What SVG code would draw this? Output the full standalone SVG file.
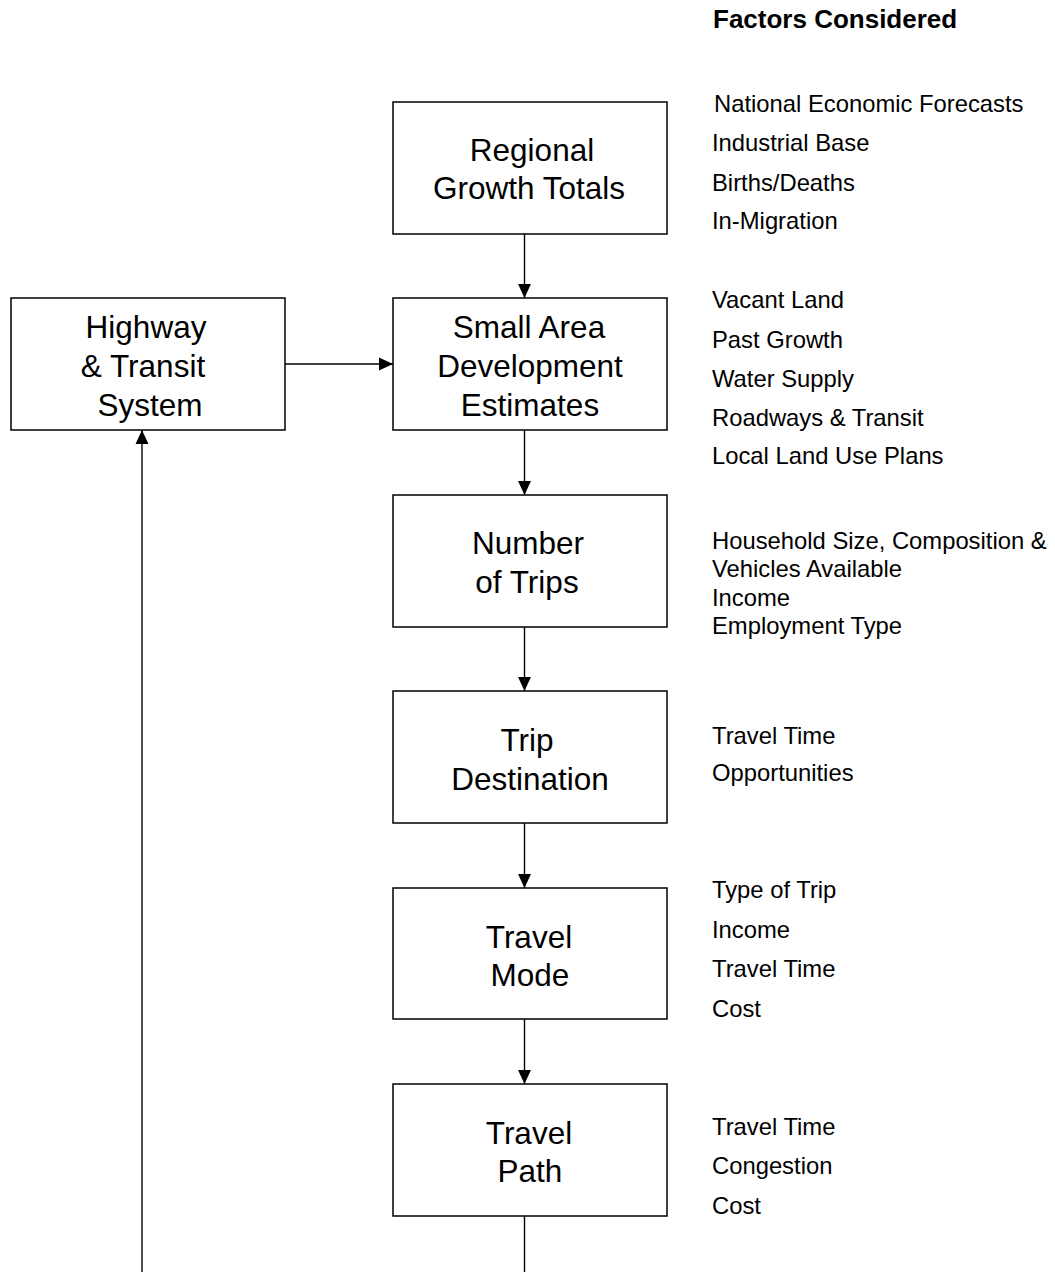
<svg xmlns="http://www.w3.org/2000/svg" width="1055" height="1272" viewBox="0 0 1055 1272">
<style>
.box{fill:#fff;stroke:#000;stroke-width:1.5}
.bt{font-family:"Liberation Sans",Arial,sans-serif;font-size:31.5px;fill:#000;text-anchor:middle}
.ft{font-family:"Liberation Sans",Arial,sans-serif;font-size:23.8px;fill:#000}
.hd{font-family:"Liberation Sans",Arial,sans-serif;font-size:26px;font-weight:bold;fill:#000}
.ln{stroke:#000;stroke-width:1.4;fill:none}
</style>
<defs>
<marker id="ah" markerUnits="userSpaceOnUse" markerWidth="14" markerHeight="14" viewBox="0 0 13 12" refX="13" refY="6" orient="auto">
<path d="M0,0 L13,6 L0,12 Z" fill="#000"/>
</marker>
</defs>
<rect width="1055" height="1272" fill="#fff"/>
<g id="connectors">
<line class="ln" x1="524.5" y1="234" x2="524.5" y2="298" marker-end="url(#ah)"/>
<line class="ln" x1="524.5" y1="430" x2="524.5" y2="495" marker-end="url(#ah)"/>
<line class="ln" x1="524.5" y1="627" x2="524.5" y2="691" marker-end="url(#ah)"/>
<line class="ln" x1="524.5" y1="823" x2="524.5" y2="888" marker-end="url(#ah)"/>
<line class="ln" x1="524.5" y1="1019" x2="524.5" y2="1084" marker-end="url(#ah)"/>
<line class="ln" x1="524.5" y1="1216" x2="524.5" y2="1272"/>
<line class="ln" x1="285" y1="364" x2="393" y2="364" marker-end="url(#ah)"/>
<line class="ln" x1="142" y1="1272" x2="142" y2="430" marker-end="url(#ah)"/>
</g>
<g id="header">
<text class="hd" x="713" y="28">Factors Considered</text>
</g>
<g id="regional">
<rect class="box" x="393" y="102" width="274" height="132"/>
<text class="bt" x="532" y="161">Regional</text>
<text class="bt" x="529" y="199">Growth Totals</text>
</g>
<g id="factors-regional">
<text class="ft" x="714" y="112">National Economic Forecasts</text>
<text class="ft" x="712" y="151">Industrial Base</text>
<text class="ft" x="712" y="191">Births/Deaths</text>
<text class="ft" x="712" y="229">In-Migration</text>
</g>
<g id="highway">
<rect class="box" x="11" y="298" width="274" height="132"/>
<text class="bt" x="146" y="338">Highway</text>
<text class="bt" x="143" y="377">&amp; Transit</text>
<text class="bt" x="150" y="416">System</text>
</g>
<g id="small-area">
<rect class="box" x="393" y="298" width="274" height="132"/>
<text class="bt" x="529" y="338">Small Area</text>
<text class="bt" x="530" y="377">Development</text>
<text class="bt" x="530" y="416">Estimates</text>
</g>
<g id="factors-small-area">
<text class="ft" x="712" y="308">Vacant Land</text>
<text class="ft" x="712" y="348">Past Growth</text>
<text class="ft" x="712" y="387">Water Supply</text>
<text class="ft" x="712" y="426">Roadways &amp; Transit</text>
<text class="ft" x="712" y="464">Local Land Use Plans</text>
</g>
<g id="number-of-trips">
<rect class="box" x="393" y="495" width="274" height="132"/>
<text class="bt" x="528" y="554">Number</text>
<text class="bt" x="527" y="593">of Trips</text>
</g>
<g id="factors-number">
<text class="ft" x="712" y="549">Household Size, Composition &amp;</text>
<text class="ft" x="712" y="577">Vehicles Available</text>
<text class="ft" x="712" y="606">Income</text>
<text class="ft" x="712" y="634">Employment Type</text>
</g>
<g id="trip-destination">
<rect class="box" x="393" y="691" width="274" height="132"/>
<text class="bt" x="527" y="751">Trip</text>
<text class="bt" x="530" y="790">Destination</text>
</g>
<g id="factors-destination">
<text class="ft" x="712" y="744">Travel Time</text>
<text class="ft" x="712" y="781">Opportunities</text>
</g>
<g id="travel-mode">
<rect class="box" x="393" y="888" width="274" height="131"/>
<text class="bt" x="529" y="948">Travel</text>
<text class="bt" x="530" y="986">Mode</text>
</g>
<g id="factors-mode">
<text class="ft" x="712" y="898">Type of Trip</text>
<text class="ft" x="712" y="938">Income</text>
<text class="ft" x="712" y="977">Travel Time</text>
<text class="ft" x="712" y="1017">Cost</text>
</g>
<g id="travel-path">
<rect class="box" x="393" y="1084" width="274" height="132"/>
<text class="bt" x="529" y="1144">Travel</text>
<text class="bt" x="530" y="1182">Path</text>
</g>
<g id="factors-path">
<text class="ft" x="712" y="1135">Travel Time</text>
<text class="ft" x="712" y="1174">Congestion</text>
<text class="ft" x="712" y="1214">Cost</text>
</g>
</svg>
